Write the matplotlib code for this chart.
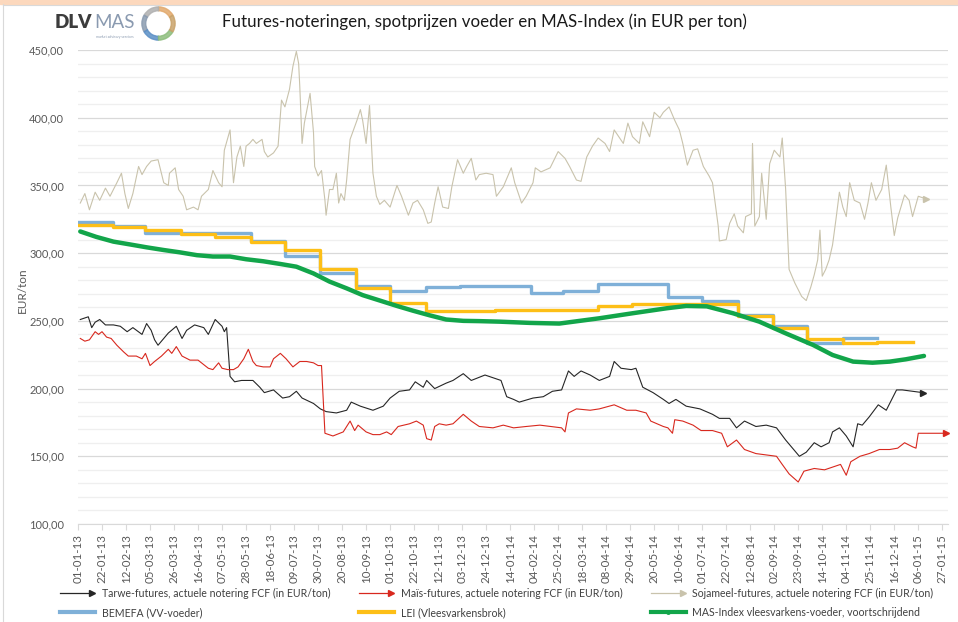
import numpy as np
import matplotlib
matplotlib.use("Agg")
import matplotlib.pyplot as plt
import matplotlib.dates as mdates
from matplotlib.lines import Line2D
from matplotlib.legend_handler import HandlerLine2D
from matplotlib.patches import Wedge, Rectangle
from matplotlib.ticker import MultipleLocator, FuncFormatter

plt.rcParams['font.family'] = ['Lato', 'DejaVu Sans']

START = np.datetime64('2013-01-01')

# --- futures (dagen sinds 01-01-2013, EUR/ton)
tarwe_dag = [2, 9, 12, 15, 19, 24, 31, 37, 43, 48, 56, 60, 64, 67, 70, 79, 86, 91, 95, 102,
             110, 114, 120, 126, 128, 130, 133, 137, 143, 153, 159, 163, 171, 179, 185, 191,
             196, 206, 212, 217, 226, 235, 239, 247, 258, 267, 273, 281, 290, 295, 302, 305,
             312, 322, 328, 337, 344, 356, 370, 375, 381, 386, 398, 407, 415, 423, 429, 434,
             440, 448, 456, 465, 469, 475, 484, 488, 494, 503, 512, 517, 523, 532, 544, 555,
             561, 570, 576, 583, 593, 602, 611, 619, 625, 631, 637, 644, 650, 657, 660, 666,
             672, 678, 682, 686, 692, 700, 707, 710, 716, 721, 730, 739]
tarwe = [251, 253, 245, 249, 251, 247, 247, 246, 242, 245, 240, 248, 243, 236, 232, 241, 246,
         237, 243, 247, 245, 240, 251, 246, 242, 245, 209, 205, 206, 206, 201, 197, 199, 193,
         194, 198, 193, 189, 185, 183, 182, 184, 190, 187, 184, 187, 193, 198, 199, 205, 201,
         206, 200, 204, 206, 211, 206, 210, 206, 194, 192, 190, 193, 194, 198, 199, 213, 209,
         213, 210, 206, 209, 220, 215, 214, 215, 201, 197, 192, 189, 192, 187, 185, 181, 178,
         178, 171, 176, 172, 173, 171, 162, 156, 150, 153, 160, 157, 160, 168, 171, 165, 157,
         174, 173, 179, 188, 184, 189, 199, 199, 198, 197]

mais_dag = [2, 6, 10, 15, 18, 21, 25, 29, 34, 40, 44, 51, 56, 59, 63, 67, 73, 79, 82, 86,
            91, 98, 105, 114, 118, 123, 126, 131, 136, 140, 145, 149, 153, 156, 162, 168, 171,
            177, 182, 188, 194, 200, 206, 210, 213, 216, 223, 232, 238, 242, 245, 252, 258,
            264, 270, 274, 280, 290, 296, 302, 305, 309, 312, 316, 322, 328, 337, 344, 351,
            363, 372, 381, 392, 404, 423, 426, 429, 436, 448, 456, 469, 480, 488, 497, 501,
            512, 516, 520, 522, 529, 538, 545, 555, 563, 568, 576, 583, 593, 602, 611, 616,
            622, 630, 635, 644, 653, 660, 667, 672, 676, 684, 692, 701, 710, 717, 723, 730,
            733, 735, 759]
mais = [237, 235, 236, 242, 240, 242, 238, 237, 232, 227, 224, 224, 222, 226, 217, 220, 224,
        229, 226, 231, 224, 221, 221, 215, 214, 219, 215, 214, 214, 216, 222, 229, 220, 217,
        216, 216, 222, 226, 222, 216, 220, 220, 219, 217, 217, 167, 165, 168, 176, 169, 173,
        168, 166, 166, 168, 166, 172, 174, 176, 173, 163, 162, 172, 174, 173, 174, 181, 176,
        172, 171, 173, 171, 172, 173, 171, 168, 182, 185, 184, 185, 188, 184, 184, 182, 176,
        172, 171, 167, 177, 176, 173, 169, 169, 167, 157, 162, 155, 152, 151, 150, 144, 137,
        131, 139, 141, 140, 142, 144, 136, 146, 150, 152, 155, 155, 156, 160, 157, 156, 167,
        167]

soja_dag = [2, 6, 10, 15, 19, 24, 28, 34, 38, 41, 44, 48, 53, 56, 60, 64, 70, 75, 79, 80,
            85, 88, 92, 95, 101, 105, 108, 114, 118, 123, 126, 128, 133, 136, 139, 142, 145,
            147, 150, 153, 156, 161, 163, 166, 171, 175, 178, 181, 185, 188, 191, 193, 194,
            196, 198, 203, 206, 207, 210, 213, 216, 217, 220, 223, 226, 228, 230, 233, 235,
            238, 241, 244, 247, 249, 252, 255, 258, 261, 264, 268, 273, 279, 283, 289, 293,
            297, 302, 306, 309, 312, 315, 319, 324, 327, 332, 337, 340, 344, 348, 351, 357,
            363, 366, 372, 379, 382, 388, 392, 398, 400, 405, 413, 420, 426, 430, 436, 440,
            445, 450, 455, 461, 465, 469, 477, 481, 485, 491, 494, 500, 504, 509, 512, 517,
            522, 526, 529, 533, 538, 542, 547, 552, 555, 557, 560, 561, 567, 570, 574, 577,
            582, 584, 589, 590, 592, 596, 598, 602, 605, 609, 614, 616, 619, 622, 627, 633,
            637, 641, 644, 647, 649, 651, 654, 657, 660, 663, 666, 669, 672, 675, 679, 684,
            688, 691, 694, 698, 703, 707, 711, 714, 717, 723, 727, 730, 735, 742]
soja = [337, 344, 332, 345, 339, 348, 342, 352, 359, 344, 333, 344, 364, 358, 364, 368, 369,
        352, 350, 359, 363, 347, 342, 332, 334, 332, 342, 347, 361, 352, 349, 376, 391, 352,
        371, 379, 364, 379, 381, 384, 381, 384, 375, 371, 374, 379, 413, 408, 421, 438, 449,
        440, 423, 381, 396, 418, 389, 364, 357, 361, 339, 328, 347, 347, 359, 337, 344, 339,
        354, 384, 391, 398, 406, 398, 381, 409, 359, 342, 336, 339, 334, 350, 342, 328, 337,
        339, 332, 322, 323, 337, 349, 334, 333, 349, 369, 359, 364, 370, 354, 358, 359, 358,
        342, 349, 363, 352, 337, 342, 352, 363, 360, 363, 375, 370, 364, 354, 353, 371, 379,
        385, 381, 375, 391, 381, 396, 386, 381, 397, 386, 404, 400, 404, 408, 398, 391, 381,
        365, 376, 377, 364, 357, 352, 339, 320, 309, 310, 322, 329, 320, 315, 327, 329, 381,
        320, 327, 359, 325, 366, 376, 371, 385, 347, 288, 278, 268, 265, 275, 284, 295, 317,
        283, 288, 295, 306, 325, 345, 334, 327, 352, 339, 337, 325, 337, 352, 339, 347, 365,
        334, 313, 326, 343, 339, 327, 342, 340]

# --- spotprijzen voeder, per maand vanaf jan-2013
bemefa = [323, 320, 315, 315, 315, 309, 298, 285, 275.5, 272, 275, 276,
          276, 270.5, 272, 277, 277, 267.5, 265, 254, 246.5, 234, 237]
lei = [321, 319, 317, 314, 312, 308, 302, 288, 274, 263, 257.5, 257,
       258, 258, 258, 261, 262.5, 262.5, 262.5, 253.5, 244.5, 236.5, 234, 234.6]

# --- MAS-index (voortschrijdend)
mas_dag = [2, 16, 31, 45, 60, 75, 89, 104, 118, 133, 147, 162, 177, 191, 206, 220, 235, 249,
           264, 279, 293, 308, 322, 337, 351, 369, 395, 421, 456, 485, 515, 532, 550, 573,
           596, 619, 643, 660, 678, 695, 710, 724, 740]
mas = [316, 312, 308.5, 306.5, 304.3, 302.3, 300.6, 298.5, 297.5, 297.5, 295.5, 294, 292,
       290, 285, 279, 274, 269, 265, 261, 257.5, 254, 251, 250, 249.8, 249.4, 248.5, 248,
       251.9, 255.6, 259.3, 261, 260.7, 255.6, 249.4, 240.8, 232.2, 224.8, 219.9, 219.1,
       219.9, 221.6, 224.1]

for d, v in [(tarwe_dag, tarwe), (mais_dag, mais), (soja_dag, soja), (mas_dag, mas)]:
    assert len(d) == len(v), (len(d), len(v))

LABELS = ["Tarwe-futures, actuele notering FCF (in EUR/ton)",
          "Maïs-futures, actuele notering FCF (in EUR/ton)",
          "Sojameel-futures, actuele notering FCF (in EUR/ton)",
          "BEMEFA (VV-voeder)",
          "LEI (Vleesvarkensbrok)",
          "MAS-Index vleesvarkens-voeder, voortschrijdend"]

C_TARWE, C_MAIS, C_SOJA = '#262626', '#d8281e', '#c9c3ac'
C_BEMEFA, C_LEI, C_MAS = '#7fb0d8', '#fdbf17', '#12a54a'


def datums(dagen):
    return START + np.array(dagen, dtype='timedelta64[D]')


def maand_stappen(waarden):
    m0 = np.datetime64('2013-01', 'M')
    x = np.arange(m0, m0 + len(waarden) + 1).astype('datetime64[D]')
    return x, np.r_[waarden, waarden[-1]]


class PijlHandler(HandlerLine2D):
    # lijntje met pijlpunt rechts, zoals in Excel
    def create_artists(self, legend, orig_handle, xdescent, ydescent, width, height,
                       fontsize, trans):
        x0, x1 = -xdescent, width - xdescent
        y = (height - ydescent) / 2
        c = orig_handle.get_color()
        lijn = Line2D([x0, x1 - 2], [y, y], color=c, lw=0.9)
        kop = Line2D([x1 - 2], [y], marker='>', ms=4, color=c, lw=0)
        lijn.set_transform(trans)
        kop.set_transform(trans)
        return [lijn, kop]


fig = plt.figure(figsize=(9.58, 6.22), dpi=100)
W, H = 958, 622
ax = fig.add_axes([78 / W, 1 - 524 / H, 870 / W, 474 / H])

# futures
for d, v, c in [(soja_dag, soja, C_SOJA), (tarwe_dag, tarwe, C_TARWE), (mais_dag, mais, C_MAIS)]:
    x = datums(d)
    ax.plot(x, v, color=c, lw=0.8, zorder=3)
    ax.plot(x[-1:], v[-1:], marker='>', ms=4, color=c, lw=0, zorder=3, clip_on=False)

# spotprijzen
xb, yb = maand_stappen(bemefa)
ax.step(xb, yb, where='post', color=C_BEMEFA, lw=2.4, zorder=4)
xl, yl = maand_stappen(lei)
ax.step(xl, yl, where='post', color=C_LEI, lw=2.4, zorder=5)
ax.plot(datums(mas_dag), mas, color=C_MAS, lw=3.2, zorder=6, solid_capstyle='round')

# assen
ax.set_ylim(100, 450)
ax.set_xlim(START, np.datetime64('2015-02-01'))
ax.yaxis.set_major_locator(MultipleLocator(50))
ax.yaxis.set_minor_locator(MultipleLocator(10))
ax.yaxis.set_major_formatter(FuncFormatter(lambda v, p: f"{v:.2f}".replace('.', ',')))
ax.grid(which='major', axis='y', color='#d9d9d9', lw=0.9)
ax.grid(which='minor', axis='y', color='#efefef', lw=0.9)
ax.set_axisbelow(True)

ticks = np.arange(START, np.datetime64('2015-02-01'), 21)
ax.set_xticks(ticks)
ax.xaxis.set_major_formatter(mdates.DateFormatter('%d-%m-%y'))
for lbl in ax.get_xticklabels():
    lbl.set_rotation(90)

for s in ['left', 'right', 'top']:
    ax.spines[s].set_visible(False)
ax.spines['bottom'].set_color('#d9d9d9')
ax.tick_params(axis='y', which='both', length=0, labelsize=8, labelcolor='#595959', pad=10)
ax.tick_params(axis='x', length=4, color='#d9d9d9', labelsize=8.3, labelcolor='#595959', pad=3)

fig.text(22 / W, 1 - 290 / H, "EUR/ton", rotation=90, ha='center', va='center',
         fontsize=8.5, color='#595959')

fig.text(484 / W, 1 - 22 / H, "Futures-noteringen, spotprijzen voeder en MAS-Index (in EUR per ton)",
         ha='center', va='center', fontsize=12.2, color='#1a1a1a')

# legenda
h = [Line2D([], [], color=C_TARWE), Line2D([], [], color=C_BEMEFA, lw=3),
     Line2D([], [], color=C_MAIS), Line2D([], [], color=C_LEI, lw=3),
     Line2D([], [], color=C_SOJA),
     Line2D([], [], color=C_MAS, lw=3, marker='o', ms=2.5)]
lab = [LABELS[0], LABELS[3], LABELS[1], LABELS[4], LABELS[2], LABELS[5]]
hmap = {h[0]: PijlHandler(), h[2]: PijlHandler(), h[4]: PijlHandler()}
fig.legend(h, lab, handler_map=hmap, ncol=3, loc='upper left',
           bbox_to_anchor=(60 / W, 1 - 588 / H), frameon=False, fontsize=7.6,
           handlelength=3.3, handletextpad=0.65, columnspacing=2.7, labelspacing=0.75,
           borderpad=0, borderaxespad=0, labelcolor='#404040', numpoints=1)

# logo
fig.text(55 / W, 1 - 23 / H, "DLV", fontsize=13.5, fontweight='heavy', color='#3c3c3c',
         ha='left', va='center')
fig.text(94 / W, 1 - 23 / H, "MAS", fontsize=13.5, color='#8a9ab0', ha='left', va='center')
fig.text(96 / W, 1 - 37 / H, "market advisory services", fontsize=2.5, color='#8a9ab0',
         ha='left', va='center')
lax = fig.add_axes([141 / W, 1 - 41 / H, 35 / W, 35 / H])
lax.set_xlim(-1, 1)
lax.set_ylim(-1, 1)
lax.set_aspect('equal')
lax.axis('off')
ring = ['#e2a96c', '#b0b0b0', '#8a9bb0', '#5b8fc6', '#8dbd7d', '#c9a36a']
for i, c in enumerate(ring):
    lax.add_patch(Wedge((0, 0), 0.95, 30 + 60 * i, 90 + 60 * i, width=0.22, color=c, alpha=0.85))

# kader
fig.patches.append(Rectangle((0, 1 - 4 / H), 1, 4 / H, transform=fig.transFigure,
                             color='#fcd8bd', zorder=0))
fig.lines.append(Line2D([3 / W, 3 / W], [0, 1 - 4 / H], transform=fig.transFigure,
                        color='#d9d9d9', lw=0.8))
fig.lines.append(Line2D([3 / W, 1], [1 - 4.5 / H, 1 - 4.5 / H], transform=fig.transFigure,
                        color='#d9d9d9', lw=0.8))

fig.savefig("out.png", dpi=100)
